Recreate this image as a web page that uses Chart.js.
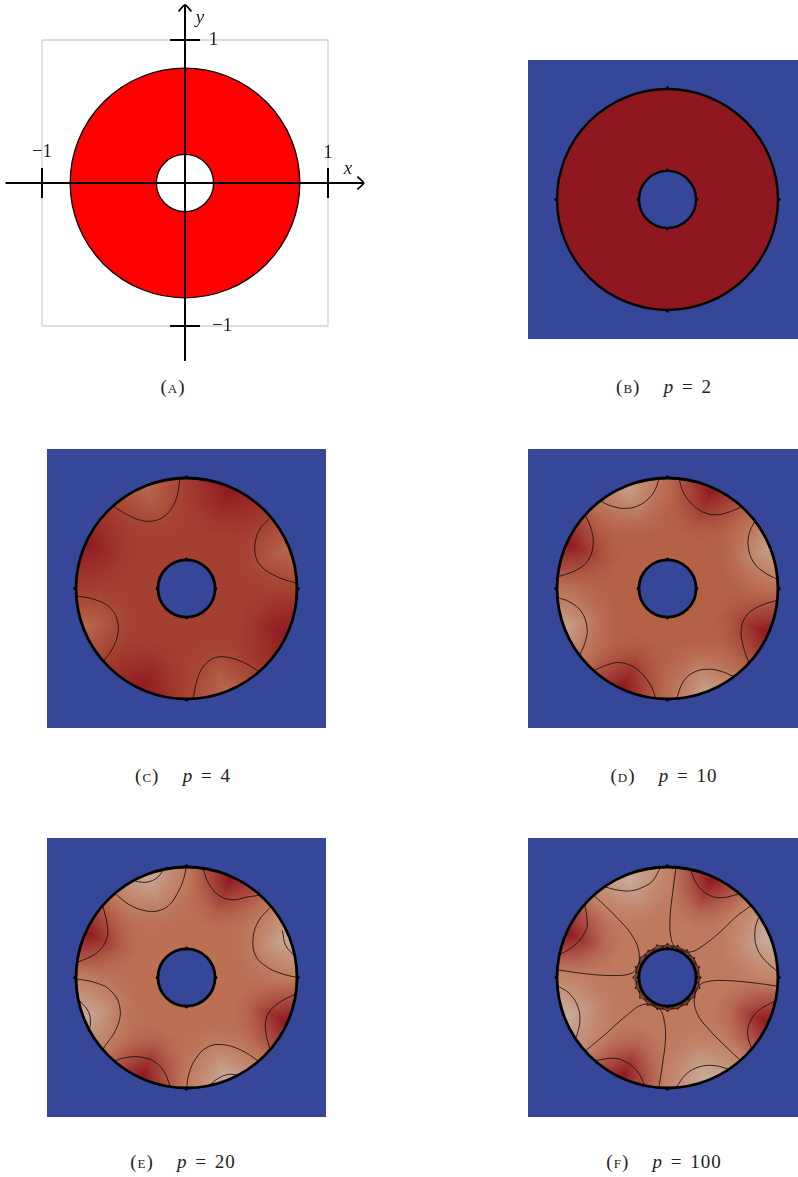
<!DOCTYPE html>
<html>
<head>
<meta charset="utf-8">
<script src="https://cdn.jsdelivr.net/npm/chart.js@4"></script>
<style>
html, body { margin: 0; padding: 0; width: 798px; height: 1177px; overflow: hidden; background: #fff; }
.panel { position: absolute; }
.panel.field { background: #36479A; }
.cap { position: absolute; font-family: "Liberation Serif", serif; font-size: 19px; letter-spacing: 1px; word-spacing: 2px; color: #222; white-space: pre; transform: translateX(-50%); }
.cap .sc { font-variant: small-caps; }
.cap i { font-style: italic; }
</style>
</head>
<body>
<script>
// annulus, in data units
const outerRadius = 0.792;
const innerRadius = 0.2;
const compassX = [0.8, 0, -0.8, 0, 0.21, 0, -0.21, 0];
const compassY = [0, 0.8, 0, -0.8, 0, 0.21, 0, -0.21];

// captions
const panelNames = ['a', 'b', 'c', 'd', 'e', 'f'];
const panelP = [null, 2, 4, 10, 20, 100];

// panel (a) axis ticks
const tickValues = [-1, 1];
const xTickLabels = ['\u22121', '1'];
const yTickLabels = ['\u22121', '1'];

// field level on the rim (0 dark red .. 1 pale), every 22.5 deg starting at 21 deg
const rimAngles = [21, 43.5, 66, 88.5, 111, 133.5, 156, 178.5, 201, 223.5, 246, 268.5, 291, 313.5, 336, 358.5];
const rimB = [0, 0, 0, 0, 0, 0, 0, 0, 0, 0, 0, 0, 0, 0, 0, 0];
const rimC = [0.5, 0.2, 0.02, 0.22, 0.5, 0.24, 0.03, 0.22, 0.5, 0.22, 0.02, 0.25, 0.5, 0.2, 0.02, 0.24];
const rimD = [0.85, 0.5, 0.02, 0.5, 0.85, 0.52, 0.02, 0.55, 0.85, 0.52, 0.02, 0.52, 0.85, 0.5, 0.02, 0.55];
const rimE = [0.96, 0.58, 0.02, 0.6, 0.96, 0.6, 0.02, 0.62, 0.96, 0.6, 0.02, 0.6, 0.96, 0.58, 0.02, 0.62];
const rimF = [1, 0.66, 0.02, 0.66, 1, 0.66, 0.02, 0.68, 1, 0.66, 0.02, 0.66, 1, 0.66, 0.02, 0.68];
// level in the middle of the ring
const midLevel = [0, 0.25, 0.46, 0.56, 0.62];

// contour lines, x and y in data units
const contoursC = [
  { x: [-.517, -.426, -.330, -.246, -.163, -.103, -.067, -.048], y: [.586, .529, .490, .483, .514, .581, .665, .778] },
  { x: [.591, .531, .495, .495, .543, .651, .787], y: [.498, .433, .342, .234, .151, .084, .038] },
  { x: [.512, .411, .304, .208, .124, .077, .048], y: [-.591, -.531, -.495, -.495, -.555, -.651, -.789] },
  { x: [-.789, -.665, -.557, -.498, -.493, -.533, -.593], y: [-.053, -.077, -.129, -.220, -.328, -.435, -.519] }
];
const contoursD = [
  { x: [-.486, -.402, -.306, -.211, -.127, -.084, -.062], y: [.629, .591, .574, .593, .653, .718, .782] },
  { x: [.084, .117, .184, .280, .388, .524], y: [.782, .682, .598, .538, .533, .581] },
  { x: [.622, .586, .579, .615, .687, .787], y: [.478, .395, .299, .191, .120, .065] },
  { x: [.787, .675, .579, .531, .538, .581], y: [-.084, -.120, -.179, -.275, -.395, -.526] },
  { x: [.471, .376, .280, .184, .112, .065], y: [-.629, -.591, -.579, -.603, -.670, -.789] },
  { x: [-.084, -.115, -.163, -.234, -.342, -.438, -.522], y: [-.785, -.706, -.634, -.567, -.531, -.550, -.586] },
  { x: [-.789, -.701, -.617, -.577, -.586, -.629], y: [-.065, -.096, -.167, -.275, -.371, -.478] },
  { x: [-.785, -.653, -.569, -.533, -.545, -.589], y: [.084, .132, .203, .311, .419, .526] }
];
const contoursE = [
  { x: [-.510, -.414, -.306, -.211, -.127, -.067, -.024, -.002], y: [.600, .524, .481, .476, .517, .600, .696, .787] },
  { x: [-.366, -.282, -.211, -.163], y: [.689, .684, .715, .773] },
  { x: [.117, .160, .232, .328, .435, .519], y: [.780, .672, .589, .557, .577, .589] },
  { x: [.598, .519, .478, .495, .579, .687, .794], y: [.500, .409, .289, .158, .074, .026, 0] },
  { x: [.687, .711, .778], y: [.337, .230, .151] },
  { x: [.782, .651, .579, .567, .598], y: [-.117, -.189, -.273, -.380, -.512] },
  { x: [.512, .388, .256, .148, .065, .017, 0], y: [-.596, -.519, -.481, -.500, -.584, -.691, -.792] },
  { x: [.160, .232, .304, .364], y: [-.775, -.720, -.694, -.699] },
  { x: [-.115, -.158, -.222, -.318, -.426, -.522], y: [-.787, -.679, -.608, -.572, -.572, -.600] },
  { x: [-.797, -.665, -.545, -.478, -.498, -.598], y: [-.010, -.033, -.093, -.213, -.356, -.512] },
  { x: [-.766, -.701, -.689, -.701], y: [-.165, -.249, -.333, -.392] },
  { x: [-.778, -.653, -.581, -.565, -.600], y: [.110, .170, .254, .349, .517] }
];
const contoursF = [
  { x: [-.443, -.342, -.246, -.151, -.103, -.055], y: [.648, .624, .624, .660, .696, .780] },
  { x: [.167, .208, .280, .376, .507], y: [.768, .672, .600, .572, .596] },
  { x: [.651, .627, .639, .699, .787], y: [.428, .337, .218, .122, .045] },
  { x: [.770, .651, .591, .574, .603], y: [-.170, -.237, -.321, -.404, -.512] },
  { x: [.435, .340, .232, .136, .060], y: [-.656, -.632, -.639, -.691, -.792] },
  { x: [-.163, -.211, -.294, -.378, -.522], y: [-.775, -.679, -.608, -.579, -.596] },
  { x: [-.785, -.701, -.641, -.629, -.653], y: [-.062, -.117, -.213, -.321, -.428] },
  { x: [-.773, -.653, -.581, -.577, -.593], y: [.163, .242, .349, .421, .517] },
  { x: [.060, .036, .019, .024, .060, .160, .256, .376, .483, .591], y: [.780, .600, .433, .289, .213, .182, .230, .325, .428, .510] },
  { x: [.787, .615, .423, .304, .232, .196, .208, .304, .423, .519], y: [-.062, -.038, -.022, -.026, -.053, -.117, -.249, -.380, -.500, -.591] },
  { x: [-.062, -.036, -.014, -.029, -.067, -.175, -.294, -.438, -.586], y: [-.787, -.620, -.428, -.285, -.218, -.194, -.273, -.400, -.524] },
  { x: [-.785, -.581, -.390, -.270, -.218, -.203, -.246, -.366, -.522], y: [.055, .026, .014, .026, .069, .170, .289, .433, .584] }
];
// the rough contour round the hole at p = 100
const fuzzX = [.235, .219, .226, .200, .191, .160, .141, .102, .074, .035, 0, -.035, -.075, -.102, -.139, -.161, -.196, -.200, -.228, -.223, -.244, -.222, -.228, -.201, -.197, -.160, -.142, -.102, -.074, -.035, 0, .035, .073, .102, .140, .159, .194, .200, .230, .222, .235];
const fuzzY = [0, .035, .074, .102, .139, .160, .194, .200, .226, .220, .240, .223, .230, .200, .191, .161, .142, .102, .074, .035, 0, -.035, -.074, -.103, -.143, -.160, -.196, -.200, -.226, -.223, -.240, -.221, -.224, -.200, -.193, -.159, -.141, -.102, -.075, -.035, 0];

const fieldColors = [[142, 23, 32], [160, 56, 44], [176, 88, 62], [190, 118, 90], [200, 150, 125], [200, 172, 155]];

function levelColor(v, alpha) {
  const t = Math.min(v, 0.999) * (fieldColors.length - 1);
  const i = Math.floor(t);
  const c = fieldColors[i].map((a, k) => Math.round(a + (fieldColors[i + 1][k] - a) * (t - i)));
  return `rgba(${c[0]},${c[1]},${c[2]},${alpha})`;
}

function radiusPx(chart, r) {
  if (!chart.chartArea) return 0;
  return chart.scales.x.getPixelForValue(r) - chart.scales.x.getPixelForValue(0);
}

function toPoints(xs, ys) {
  return xs.map((x, i) => ({ x: x, y: ys[i] }));
}

function lineSet(xs, ys, color, width, order, tension) {
  return { data: toPoints(xs, ys), showLine: true, borderColor: color, borderWidth: width, pointRadius: 0, tension: tension || 0, order: order, borderCapStyle: 'butt' };
}

function discSet(r, fillColor, strokeColor, strokeWidth, order) {
  return {
    data: [{ x: 0, y: 0 }],
    pointStyle: 'circle',
    pointRadius: ctx => radiusPx(ctx.chart, r),
    pointBackgroundColor: fillColor,
    pointBorderColor: strokeColor,
    pointBorderWidth: strokeWidth,
    order: order
  };
}

function baseOptions(xMin, xMax, yMin, yMax) {
  return {
    responsive: false,
    animation: false,
    events: [],
    // autoPadding would shrink the plot area and break the scale
    layout: { autoPadding: false, padding: 0 },
    plugins: { legend: { display: false }, tooltip: { enabled: false } },
    scales: {
      x: { type: 'linear', min: xMin, max: xMax, display: false },
      y: { type: 'linear', min: yMin, max: yMax, display: false }
    }
  };
}

function addCanvas(left, top, w, h, cls) {
  const canvas = document.createElement('canvas');
  canvas.width = w;
  canvas.height = h;
  canvas.className = cls;
  canvas.style.left = left + 'px';
  canvas.style.top = top + 'px';
  document.body.appendChild(canvas);
  return canvas;
}

function addCaption(i, centerX, top) {
  const cap = document.createElement('div');
  cap.className = 'cap';
  cap.style.left = centerX + 'px';
  cap.style.top = top + 'px';
  let html = `(<span class="sc">${panelNames[i]}</span>)`;
  if (panelP[i] !== null) html += `   <i>p</i> = ${panelP[i]}`;
  cap.innerHTML = html;
  document.body.appendChild(cap);
}

// panel (a): the domain with its axes
const axisLabels = {
  id: 'axisLabels',
  afterDatasetsDraw(chart) {
    const { ctx, scales: { x, y } } = chart;
    ctx.save();
    ctx.fillStyle = '#222';
    ctx.textBaseline = 'middle';
    ctx.textAlign = 'center';
    ctx.font = '19px "Liberation Serif", serif';
    tickValues.forEach((v, i) => {
      ctx.fillText(xTickLabels[i], x.getPixelForValue(v), y.getPixelForValue(v < 0 ? 0.22 : 0.21));
      ctx.fillText(yTickLabels[i], x.getPixelForValue(v < 0 ? 0.26 : 0.2), y.getPixelForValue(v));
    });
    ctx.font = 'italic 19px "Liberation Serif", serif';
    ctx.fillText('x', x.getPixelForValue(1.14), y.getPixelForValue(0.1));
    ctx.fillText('y', x.getPixelForValue(0.105), y.getPixelForValue(1.155));
    ctx.restore();
  }
};

new Chart(addCanvas(0, 0, 376, 372, 'panel'), {
  type: 'scatter',
  plugins: [axisLabels],
  data: {
    datasets: [
      lineSet([-1, 1, 1, -1, -1], [-1, -1, 1, 1, -1], '#d2d2d2', 1.3, 9),
      discSet(0.803, '#ff0000', '#000', 1.3, 8),
      discSet(innerRadius, '#ffffff', '#000', 1.3, 7),
      lineSet([-1.255, 1.25], [0, 0], '#000', 2, 3),
      lineSet([0, 0], [-1.245, 1.245], '#000', 2, 3),
      lineSet([1.205, 1.25, 1.205], [0.045, 0, -0.045], '#000', 1.7, 2, 0.2),
      lineSet([-0.045, 0, 0.045], [1.2, 1.245, 1.2], '#000', 1.7, 2, 0.2),
      lineSet([-1, -1], [-0.105, 0.105], '#000', 2, 2),
      lineSet([1, 1], [-0.105, 0.105], '#000', 2, 2),
      lineSet([-0.105, 0.105], [1, 1], '#000', 2, 2),
      lineSet([-0.105, 0.105], [-1, -1], '#000', 2, 2)
    ]
  },
  options: baseOptions(-1.2937, 1.3357, -1.3217, 1.2797)
});
addCaption(0, 173, 376);

// panels (b) to (f): the computed field
function fieldPanel(left, top, rim, mid, contours, rimWidth, fuzz) {
  const conic = ctx => {
    const { chart } = ctx;
    if (!chart.chartArea) return 'rgba(0,0,0,0)';
    const grad = chart.ctx.createConicGradient(0, chart.scales.x.getPixelForValue(0), chart.scales.y.getPixelForValue(0));
    // canvas angles run clockwise from +x, rim angles counter clockwise
    const stops = rimAngles.map((a, i) => ({ at: (360 - a) / 360, v: rim[i] })).sort((p, q) => p.at - q.at);
    const first = stops[0].v;
    const last = stops[stops.length - 1].v;
    // 0 deg lies 1.5 deg past the last sample of the 22.5 deg spacing
    const wrap = first + (last - first) * (1.5 / 22.5);
    grad.addColorStop(0, levelColor(wrap, 1));
    stops.forEach(s => grad.addColorStop(s.at, levelColor(s.v, 1)));
    grad.addColorStop(1, levelColor(wrap, 1));
    return grad;
  };
  const radial = ctx => {
    const { chart } = ctx;
    if (!chart.chartArea) return 'rgba(0,0,0,0)';
    const cx = chart.scales.x.getPixelForValue(0);
    const cy = chart.scales.y.getPixelForValue(0);
    const grad = chart.ctx.createRadialGradient(cx, cy, 0, cx, cy, radiusPx(chart, outerRadius));
    grad.addColorStop(0, levelColor(mid, 1));
    grad.addColorStop(0.5, levelColor(mid, 1));
    grad.addColorStop(0.65, levelColor(mid, 0.8));
    grad.addColorStop(0.82, levelColor(mid, 0.32));
    grad.addColorStop(0.96, levelColor(mid, 0));
    return grad;
  };
  const datasets = [
    discSet(outerRadius, conic, '#000', 0, 50),
    discSet(outerRadius, radial, '#000', 0, 49)
  ];
  contours.forEach(c => datasets.push(lineSet(c.x, c.y, 'rgba(25,15,15,.85)', 1, 20, 0.4)));
  if (fuzz) {
    datasets.push(discSet(0.222, 'rgba(0,0,0,0)', 'rgba(45,22,18,.55)', 3, 16));
    datasets.push({ data: toPoints(fuzzX, fuzzY), showLine: true, borderColor: 'rgba(45,22,18,.8)', borderWidth: 1, pointRadius: 1.1, pointBackgroundColor: 'rgba(45,22,18,.85)', pointBorderWidth: 0, order: 15 });
  }
  datasets.push(discSet(outerRadius, 'rgba(0,0,0,0)', '#000', rimWidth, 10));
  datasets.push(discSet(innerRadius + 0.005, '#36479A', '#000', rimWidth, 9));
  datasets.push({ data: toPoints(compassX, compassY), pointRadius: 1.6, pointBackgroundColor: '#000', pointBorderWidth: 0, order: 8 });
  new Chart(addCanvas(left, top, 279, 279, 'panel field'), {
    type: 'scatter',
    data: { datasets: datasets },
    options: baseOptions(-1, 1, -1, 1)
  });
}

fieldPanel(528, 60, rimB, midLevel[0], [], 2.4);
addCaption(1, 664, 376);
fieldPanel(47, 449, rimC, midLevel[1], contoursC, 2.8);
addCaption(2, 183, 765);
fieldPanel(528, 449, rimD, midLevel[2], contoursD, 2.8);
addCaption(3, 664, 765);
fieldPanel(47, 838, rimE, midLevel[3], contoursE, 2.8);
addCaption(4, 183, 1151);
fieldPanel(528, 838, rimF, midLevel[4], contoursF, 2.8, true);
addCaption(5, 664, 1151);
</script>
</body>
</html>
